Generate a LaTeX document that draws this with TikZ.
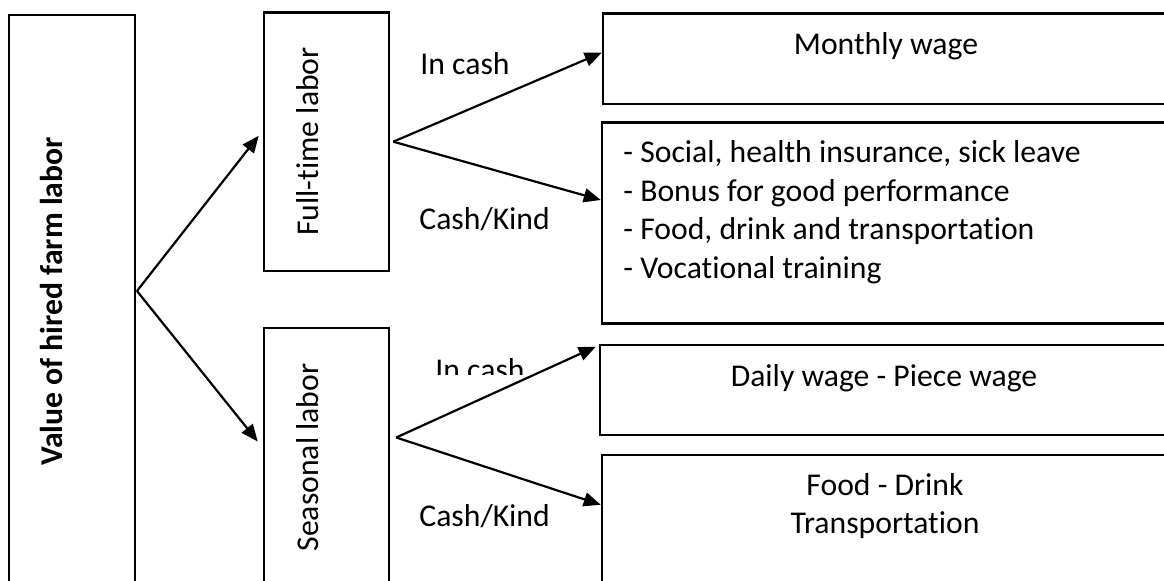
\documentclass[tikz,border=0pt]{standalone}
\usepackage{fontspec}
\setmainfont{Carlito}[Ligatures=NoCommon]
\usetikzlibrary{arrows.meta}

\tikzset{
  box/.style={draw, line width=1.25pt, inner sep=0pt},
  txt/.style={inner sep=0pt, font=\fontsize{15.85}{19.3}\selectfont},
  vtxt/.style={txt, rotate=90, anchor=base},
  arrow/.style={line width=1.1pt, -{Triangle[length=8.5pt,width=7pt]}}
}

\begin{document}
\begin{tikzpicture}[x=0.5pt,y=-0.5pt]
\useasboundingbox (0,0) rectangle (1164,581);
\clip (0,0) rectangle (1164,581);
% boxes
\node[box, minimum width=63pt, minimum height=286.5pt] (hired) at (72,301.5) {};
\node[box, minimum width=62.5pt, minimum height=129.3pt] (fulltime) at (326.5,141.7) {};
\node[box, minimum width=62.5pt, minimum height=129.5pt] (seasonal) at (326.5,457.5) {};
\node[box, minimum width=282.5pt, minimum height=45.3pt] (monthly) at (885.5,58.7) {};
\node[box, minimum width=283pt, minimum height=100.3pt] (benefit) at (885,223) {};
\node[box, minimum width=284pt, minimum height=45pt] (daily) at (884,390) {};
\node[box, minimum width=283pt, minimum height=67.5pt] (food) at (885,522.5) {};
% texts in the boxes
\node[vtxt, font=\fontsize{15.85}{19.3}\selectfont\bfseries] (hiredtxt) at (62,301.5) {Value of hired farm labor};
\node[vtxt] (fulltimetxt) at (318,141.5) {Full-time labor};
\node[vtxt] (seasonaltxt) at (318,457.5) {Seasonal labor};
\node[txt, anchor=base] (monthlytxt) at (886,55) {Monthly wage};
\foreach \line [count=\i from 0] in {{- Social, health insurance, sick leave},{- Bonus for good performance},{- Food, drink and transportation},{- Vocational training}}
  \node[txt, anchor=base west] (benefit\i) at (623,163+38.4*\i) {\line};
\node[txt, anchor=base] (dailytxt) at (884,387) {Daily wage - Piece wage};
\node[txt, anchor=base] (foodtxt) at (885,496) {Food - Drink};
\node[txt, anchor=base] (transtxt) at (885,534) {Transportation};
% labels on the arrows
\node[txt, anchor=base west] (cash1) at (420,75) {In cash};
\node[txt, anchor=base west] (kind1) at (419,230) {Cash/Kind};
\begin{scope}
\clip (400,340) rectangle (560,375);
\node[txt, anchor=base west] (cash2) at (435,380.5) {In cash};
\end{scope}
\node[txt, anchor=base west] (kind2) at (419,527) {Cash/Kind};
% arrows
\coordinate (fork) at (137,291);
\draw[arrow] (fork) -- ([xshift=-2pt,yshift=3pt]fulltime.west);
\draw[arrow] (fork) -- ([xshift=-2.5pt,yshift=8pt]seasonal.west);
\coordinate (ftfork) at ([xshift=1.5pt]fulltime.east);
\draw[arrow] (ftfork) -- ([yshift=3pt]monthly.west);
\draw[arrow] (ftfork) -- ([yshift=11.5pt]benefit.west);
\coordinate (slfork) at ([xshift=3pt,yshift=10pt]seasonal.east);
\draw[arrow] (slfork) -- ([xshift=-1.5pt,yshift=-1.5pt]daily.north west);
\draw[arrow] (slfork) -- ([yshift=-25.5pt]food.north west);
\end{tikzpicture}
\end{document}
